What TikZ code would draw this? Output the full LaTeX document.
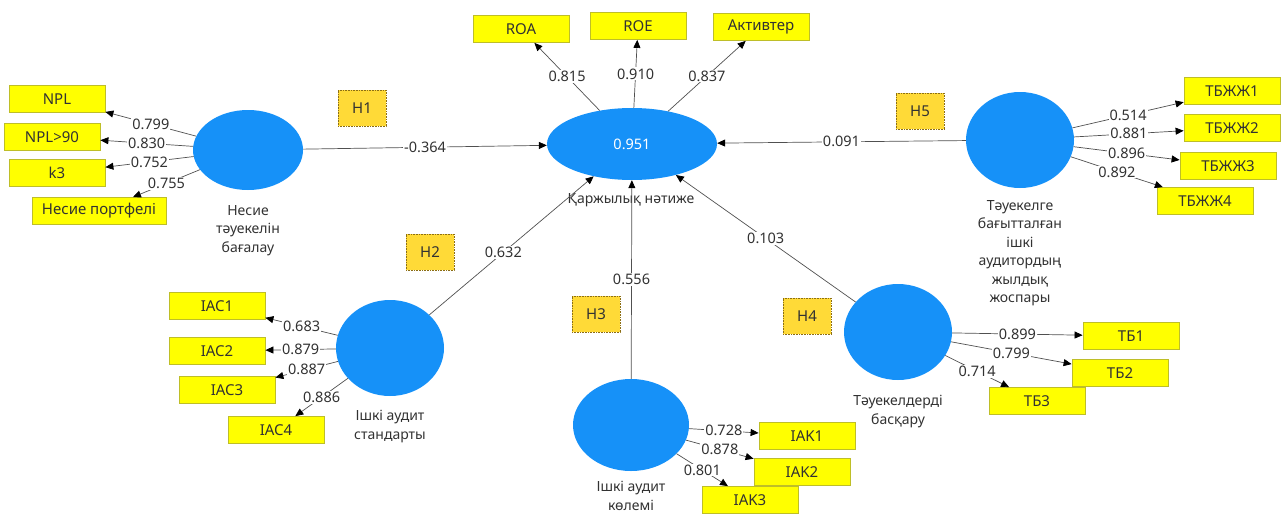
\documentclass[tikz,border=0pt]{standalone}
\usepackage{fontspec}
\setmainfont{Noto Sans}
\usepackage{tikz}
\usetikzlibrary{positioning,calc,arrows.meta,shapes.geometric}

\begin{document}
\begin{tikzpicture}[x=1pt,y=-1pt]
	\definecolor{lvblue}{RGB}{22,145,248}
	\definecolor{mvyellow}{RGB}{255,255,0}
	\definecolor{mvborder}{RGB}{190,190,40}
	\definecolor{hypgold}{RGB}{255,218,55}
	\definecolor{hypborder}{RGB}{140,110,20}
	\definecolor{txtgray}{RGB}{50,50,50}
	\definecolor{linegray}{RGB}{80,80,80}
	\tikzset{
		latent/.style={
			ellipse,
			fill=lvblue,
			draw=none,
			inner sep=0pt,
			text=white,
			font=\fontsize{14.5}{16}\selectfont
		},
		manifest/.style={
			rectangle,
			fill=mvyellow,
			draw=mvborder,
			line width=0.8pt,
			minimum width=96pt,
			minimum height=27pt,
			inner sep=0pt,
			text=txtgray,
			font=\fontsize{15}{16}\selectfont
		},
		hyp/.style={
			rectangle,
			fill=hypgold,
			draw=hypborder,
			densely dotted,
			line width=0.6pt,
			minimum width=48pt,
			minimum height=36pt,
			inner sep=0pt,
			text=txtgray,
			font=\fontsize{15}{16}\selectfont
		},
		lvname/.style={
			align=center,
			text=txtgray,
			inner sep=0pt,
			font=\fontsize{14}{18.5}\selectfont
		},
		load/.style={
			draw=linegray,
			line width=0.7pt,
			-{Triangle[length=8pt,width=7pt,color=black]}
		},
		coef/.style={
			fill=white,
			inner sep=1pt,
			text=txtgray,
			font=\fontsize{14.5}{15}\selectfont
		}
	}
	\useasboundingbox (0,0) rectangle (1282,514);
	
	% ======= Latent variables =======
	\node[latent, minimum width=170pt, minimum height=72pt] (fin) at (632,144) {0.951};
	\node[lvname] (finname) at (631,200) {Қаржылық нәтиже};
	
	\node[latent, minimum width=110pt, minimum height=80pt] (risk) at (248,150) {};
	\node[lvname, below=15pt of risk] (riskname) {Несие\\тәуекелін\\бағалау};
	
	\node[latent, minimum width=108pt, minimum height=96pt] (plan) at (1020,140) {};
	\node[lvname, below=12pt of plan] (planname) {Тәуекелге\\бағытталған\\ішкі\\аудитордың\\жылдық\\жоспары};
	
	\node[latent, minimum width=108pt, minimum height=96pt] (std) at (390,348) {};
	\node[lvname, below=14pt of std] (stdname) {Ішкі аудит\\стандарты};
	
	\node[latent, minimum width=116pt, minimum height=92pt] (vol) at (631,425) {};
	\node[lvname, below=10pt of vol] (volname) {Ішкі аудит\\көлемі};
	
	\node[latent, minimum width=108pt, minimum height=96pt] (mgmt) at (898,332) {};
	\node[lvname, below=15pt of mgmt] (mgmtname) {Тәуекелдерді\\басқару};
	
	% ======= Hypotheses =======
	\node[hyp] (h1) at (362,108) {H1};
	\node[hyp] (h2) at (430,252) {H2};
	\node[hyp] (h3) at (596,314) {H3};
	\node[hyp] (h4) at (807,316) {H4};
	\node[hyp] (h5) at (920,111) {H5};
	
	% ======= Indicators =======
	\node[manifest] (roa) at (521,29) {ROA};
	\node[manifest] (roe) at (638,26) {ROE};
	\node[manifest] (akt) at (761,27) {Активтер};
	
	\node[manifest] (npl) at (57,99) {NPL};
	\node[manifest] (npl90) at (52,137) {NPL>90};
	\node[manifest] (kthree) at (57,173) {k3};
	\node[manifest, minimum width=134pt] (port) at (99,211) {Несие портфелі};
	
	\node[manifest] (tb1) at (1232,91) {ТБЖЖ1};
	\node[manifest] (tb2) at (1232,128) {ТБЖЖ2};
	\node[manifest] (tb3) at (1228,166) {ТБЖЖ3};
	\node[manifest] (tb4) at (1205,201) {ТБЖЖ4};
	
	\node[manifest] (iac1) at (217,306) {IAC1};
	\node[manifest] (iac2) at (217,351) {IAC2};
	\node[manifest] (iac3) at (227,390) {IAC3};
	\node[manifest] (iac4) at (276,430) {IAC4};
	
	\node[manifest] (iak1) at (807,436) {IAK1};
	\node[manifest] (iak2) at (802,472) {IAK2};
	\node[manifest] (iak3) at (750,500) {IAK3};
	
	\node[manifest] (rm1) at (1131,336) {ТБ1};
	\node[manifest] (rm2) at (1120,373) {ТБ2};
	\node[manifest] (rm3) at (1037,401) {ТБ3};
	
	% ======= Path coefficients =======
	\draw[load] (risk) -- node[coef] {-0.364} (fin);
	\draw[load] (plan) -- node[coef] {0.091} (fin);
	\draw[load] (std) -- node[coef, pos=0.45] {0.632} (fin);
	\draw[load] (vol) -- node[coef, pos=0.5] {0.556} (fin);
	\draw[load] (mgmt) -- node[coef, pos=0.5] {0.103} (fin);
	
	% ======= Loadings =======
	\draw[load] (fin) -- node[coef] {0.815} (roa);
	\draw[load] (fin) -- node[coef] {0.910} (roe);
	\draw[load] (fin) -- node[coef] {0.837} (akt);
	
	\draw[load] (risk) -- node[coef] {0.799} (npl);
	\draw[load] (risk) -- node[coef] {0.830} (npl90);
	\draw[load] (risk) -- node[coef] {0.752} (kthree);
	\draw[load] (risk) -- node[coef] {0.755} (port);
	
	\draw[load] (plan) -- node[coef] {0.514} (tb1);
	\draw[load] (plan) -- node[coef] {0.881} (tb2);
	\draw[load] (plan) -- node[coef] {0.896} (tb3);
	\draw[load] (plan) -- node[coef] {0.892} (tb4);
	
	\draw[load] (std) -- node[coef] {0.683} (iac1);
	\draw[load] (std) -- node[coef] {0.879} (iac2);
	\draw[load] (std) -- node[coef] {0.887} (iac3);
	\draw[load] (std) -- node[coef] {0.886} (iac4);
	
	\draw[load] (vol) -- node[coef] {0.728} (iak1);
	\draw[load] (vol) -- node[coef] {0.878} (iak2);
	\draw[load] (vol) -- node[coef] {0.801} (iak3);
	
	\draw[load] (mgmt) -- node[coef] {0.899} (rm1);
	\draw[load] (mgmt) -- node[coef] {0.799} (rm2);
	\draw[load] (mgmt) -- node[coef] {0.714} (rm3);
\end{tikzpicture}
\end{document}
